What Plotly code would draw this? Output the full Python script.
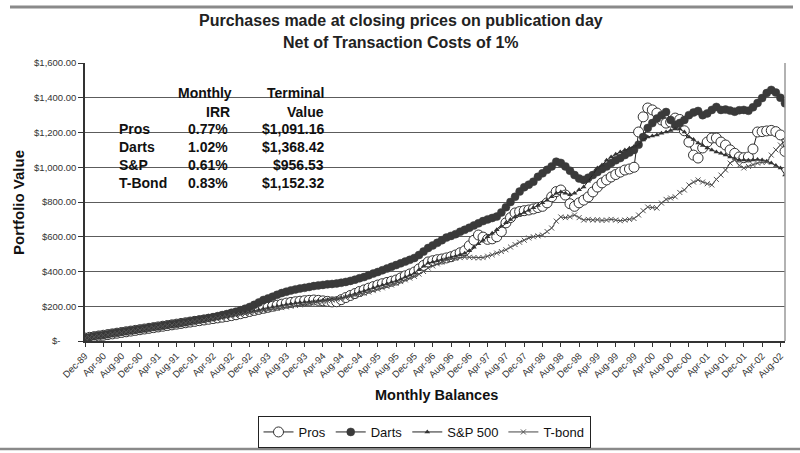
import plotly.graph_objects as go

# ---------------- data ----------------
tick_labels = ["Dec-89", "Apr-90", "Aug-90", "Dec-90", "Apr-91", "Aug-91", "Dec-91", "Apr-92",
               "Aug-92", "Dec-92", "Apr-93", "Aug-93", "Dec-93", "Apr-94", "Aug-94", "Dec-94",
               "Apr-95", "Aug-95", "Dec-95", "Apr-96", "Aug-96", "Dec-96", "Apr-97", "Aug-97",
               "Dec-97", "Apr-98", "Aug-98", "Dec-98", "Apr-99", "Aug-99", "Dec-99", "Apr-00",
               "Aug-00", "Dec-00", "Apr-01", "Aug-01", "Dec-01", "Apr-02", "Aug-02"]

pros = [17, 21, 25, 29, 33, 37, 41, 45, 49, 53,
        57, 61, 65, 69, 73, 77, 81, 85, 89, 93,
        97, 101, 105, 109, 113, 117, 121, 125, 129, 133,
        137, 141, 146, 151, 157, 163, 170, 176, 182, 188,
        194, 200, 206, 212, 218, 222, 226, 229, 232, 234,
        236, 234, 231, 228, 225, 226, 238, 250, 262, 273,
        285, 294, 304, 313, 322, 330, 337, 344, 351, 363,
        375, 386, 397, 415, 435, 455, 462, 468, 472, 478,
        485, 495, 508, 520, 548, 580, 610, 598, 585, 588,
        600, 630, 680, 710, 737, 745, 750, 754, 760, 768,
        775, 795, 830, 860, 869, 840, 790, 775, 795, 811,
        829, 858, 886, 910, 927, 944, 958, 972, 984, 990,
        1000, 1203, 1290, 1341, 1330, 1312, 1272, 1254, 1260, 1283,
        1275, 1210, 1145, 1070, 1053, 1111, 1145, 1168, 1168, 1145,
        1128, 1100, 1080, 1059, 1055, 1059, 1105, 1203, 1205, 1209,
        1212, 1205, 1186, 1091]

darts = [18, 22, 27, 31, 35, 39, 44, 48, 52, 56,
         60, 64, 68, 72, 76, 80, 84, 88, 92, 96,
         100, 104, 108, 113, 118, 122, 127, 132, 137, 143,
         149, 155, 162, 169, 177, 186, 196, 208, 222, 236,
         245, 255, 266, 276, 284, 291, 297, 302, 306, 311,
         316, 320, 323, 326, 328, 331, 335, 340, 346, 353,
         361, 368, 378, 388, 397, 407, 417, 427, 437, 447,
         457, 467, 478, 495, 515, 535, 550, 565, 580, 595,
         605, 615, 629, 640, 652, 665, 677, 690, 700, 708,
         716, 740, 770, 800, 830, 860, 885, 900, 917, 945,
         965, 985, 1005, 1032, 1025, 1005, 980, 955, 935, 927,
         940, 955, 972, 990, 1005, 1024, 1040, 1053, 1070, 1085,
         1100, 1130, 1174, 1226, 1254, 1280, 1300, 1318, 1272, 1243,
         1255, 1272, 1300, 1315, 1324, 1300, 1310, 1330, 1347, 1330,
         1332, 1326, 1320, 1328, 1330, 1325, 1345, 1370, 1398, 1427,
         1445, 1430, 1400, 1368]

sp500 = [16, 20, 24, 28, 32, 36, 40, 44, 48, 52,
         56, 60, 64, 68, 72, 76, 80, 84, 88, 92,
         96, 100, 104, 108, 112, 116, 120, 124, 128, 132,
         136, 140, 145, 150, 155, 160, 166, 172, 178, 184,
         190, 195, 200, 205, 210, 214, 218, 221, 224, 226,
         228, 231, 234, 237, 240, 243, 248, 255, 262, 270,
         280, 288, 297, 306, 315, 322, 330, 338, 345, 356,
         368, 379, 390, 410, 430, 449, 455, 462, 468, 474,
         480, 488, 496, 505, 520, 540, 560, 580, 600, 620,
         640, 660, 680, 700, 715, 728, 740, 753, 767, 780,
         795, 810, 830, 850, 858, 850, 842, 850, 870, 886,
         920, 960, 996, 1013, 1040, 1059, 1075, 1088, 1099, 1110,
         1120, 1128, 1157, 1174, 1180, 1186, 1195, 1203, 1212, 1220,
         1220, 1203, 1174, 1160, 1139, 1125, 1111, 1100, 1088, 1080,
         1070, 1059, 1050, 1042, 1042, 1040, 1042, 1045, 1042, 1035,
         1024, 1010, 996, 956]

tbond = [16, 20, 24, 28, 32, 36, 40, 44, 48, 52,
         56, 60, 64, 68, 72, 76, 80, 84, 88, 92,
         96, 100, 104, 108, 112, 116, 120, 124, 128, 132,
         136, 140, 144, 148, 152, 156, 160, 165, 170, 175,
         180, 184, 188, 192, 196, 200, 204, 208, 212, 216,
         220, 224, 228, 232, 236, 240, 244, 250, 256, 262,
         268, 275, 282, 290, 298, 306, 314, 322, 332, 342,
         352, 362, 372, 385, 400, 420, 432, 444, 455, 466,
         472, 476, 480, 483, 482, 480, 478, 480, 488, 496,
         506, 515, 525, 541, 555, 568, 580, 593, 600, 605,
         610, 630, 650, 690, 714, 710, 715, 725, 710, 696,
         700, 696, 698, 694, 696, 700, 696, 692, 696, 700,
         705, 725, 750, 771, 768, 765, 794, 815, 823, 830,
         855, 869, 898, 915, 927, 915, 905, 898, 930, 955,
         984, 1024, 1042, 1010, 996, 1005, 1015, 1024, 1028, 1030,
         1070, 1100, 1128, 1152]

y_ticks = [0, 200, 400, 600, 800, 1000, 1200, 1400, 1600]
y_labels = ["$-\u00a0\u00a0\u00a0\u00a0\u00a0\u00a0", "$200.00", "$400.00", "$600.00", "$800.00",
            "$1,000.00", "$1,200.00", "$1,400.00", "$1,600.00"]

table_names = ["Pros", "Darts", "S&P", "T-Bond"]
table_irr = ["0.77%", "1.02%", "0.61%", "0.83%"]
table_terminal = ["$1,091.16", "$1,368.42", "$956.53", "$1,152.32"]

# ---------------- figure ----------------
months = list(range(len(pros)))
FONT = "Liberation Sans, Arial, sans-serif"
DARK = "#333333"

fig = go.Figure()
fig.add_trace(go.Scatter(x=months, y=pros, name="Pros", mode="lines+markers",
                         line=dict(color="#222222", width=1),
                         marker=dict(symbol="circle", size=10, color="white",
                                     line=dict(color="#333333", width=1))))
fig.add_trace(go.Scatter(x=months, y=darts, name="Darts", mode="lines+markers",
                         line=dict(color="#222222", width=1),
                         marker=dict(symbol="circle", size=8, color="#3a3a3a",
                                     line=dict(color="#3a3a3a", width=0.5))))
fig.add_trace(go.Scatter(x=months, y=sp500, name="S&P 500", mode="lines+markers",
                         line=dict(color="#222222", width=1),
                         marker=dict(symbol="triangle-up", size=5, color="#333333")))
fig.add_trace(go.Scatter(x=months, y=tbond, name="T-bond", mode="lines+markers",
                         line=dict(color="#444444", width=1),
                         marker=dict(symbol="x-thin", size=5, color="#555555",
                                     line=dict(color="#555555", width=1))))


def px_x(x):
    return (x - 85) / 700.0


def px_y(y):
    return (341 - y) / 278.0


def ann(text, x, y, xanchor="center", size=14, angle=0, color="#111111"):
    return dict(text=text, x=px_x(x), y=px_y(y), xref="paper", yref="paper",
                xanchor=xanchor, yanchor="middle", textangle=angle, showarrow=False,
                font=dict(size=size, color=color, family=FONT))


annotations = [
    ann("<b>Purchases made at closing prices on publication day</b>", 401, 20, size=16, color="#222222"),
    ann("<b>Net of Transaction Costs of 1%</b>", 401, 42, size=16, color="#222222"),
    ann("<b>Portfolio Value</b>", 18, 203, size=15, angle=-90),
    ann("<b>Monthly Balances</b>", 436, 395, size=14.5),
    ann("<b>Monthly</b>", 234, 93, xanchor="right"),
    ann("<b>IRR</b>", 232, 112, xanchor="right"),
    ann("<b>Terminal</b>", 326, 93, xanchor="right"),
    ann("<b>Value</b>", 326, 112, xanchor="right"),
]
row_y = [129, 147, 165, 183]
for name, irr, term, ry in zip(table_names, table_irr, table_terminal, row_y):
    annotations.append(ann("<b>%s</b>" % name, 117, ry, xanchor="left"))
    annotations.append(ann("<b>%s</b>" % irr, 230, ry, xanchor="right"))
    annotations.append(ann("<b>%s</b>" % term, 326, ry, xanchor="right"))

shapes = [
    # white box behind the table (above grid, below traces)
    dict(type="rect", xref="paper", yref="paper", x0=0.002, x1=px_x(328),
         y0=px_y(193), y1=px_y(82), fillcolor="white", line=dict(width=0), layer="between"),
    # right border of plot
    dict(type="line", xref="paper", yref="paper", x0=1, x1=1, y0=0, y1=1,
         line=dict(color="#999999", width=1.5)),
    # page decoration lines
    dict(type="line", xref="paper", yref="paper", x0=px_x(10), x1=px_x(793),
         y0=px_y(7), y1=px_y(7), line=dict(color="#8a8a8a", width=3)),
    dict(type="line", xref="paper", yref="paper", x0=px_x(0), x1=px_x(800),
         y0=px_y(449), y1=px_y(449), line=dict(color="#8a8a8a", width=2.5)),
]

fig.update_layout(
    width=800, height=453,
    margin=dict(l=85, r=15, t=63, b=112),
    paper_bgcolor="white", plot_bgcolor="white",
    font=dict(family=FONT, color=DARK),
    showlegend=True,
    legend=dict(orientation="h", xref="container", yref="container",
                x=424 / 800.0, xanchor="center", y=1 - 416 / 453.0, yanchor="top",
                bordercolor="#222222", borderwidth=1, bgcolor="white",
                font=dict(size=13, color="#111111", family=FONT),
                itemwidth=30, tracegroupgap=0),
    annotations=annotations,
    shapes=shapes,
)

fig.update_xaxes(range=[0, 153], tickmode="array", automargin=False,
                 tickvals=list(range(0, 153, 4)), ticktext=tick_labels,
                 tickangle=-45, ticks="outside", ticklen=4, tickcolor="#333333",
                 showline=True, linecolor="#333333", linewidth=1.5,
                 showgrid=False, zeroline=False,
                 tickfont=dict(size=9.5, color="#333333", family=FONT))
fig.update_yaxes(range=[0, 1600], tickmode="array", tickvals=y_ticks, ticktext=y_labels,
                 automargin=False,
                 ticks="outside", ticklen=5, tickcolor="#333333",
                 showline=True, linecolor="#333333", linewidth=1.5,
                 showgrid=True, gridcolor="#5c5c5c", gridwidth=1, zeroline=False,
                 tickfont=dict(size=9.5, color="#333333", family=FONT))

fig.write_html("out.html")
